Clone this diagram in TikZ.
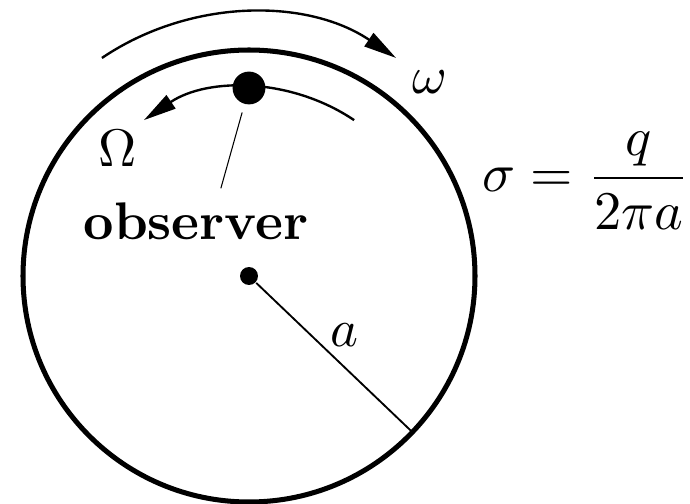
\documentclass[tikz,border=0pt]{standalone}
\usetikzlibrary{arrows.meta}
\begin{document}
\begin{tikzpicture}[
  x=0.189pt, y=0.189pt,
  blob/.style={circle,fill=black,inner sep=0pt,minimum size=#1},
  spin/.style={line width=0.45pt,-{Triangle[length=6.2pt,width=3pt]}}
  ]

   \useasboundingbox (0,0) rectangle (690,503);

   \node (ctr) [blob=3.4pt] at (249,227) {} ;
   \draw [line width=0.95pt] (ctr.center) circle [radius=226] ;
   \path (ctr.center) ++(-43.7:226) coordinate (rim) ;
   \draw [line width=0.35pt] (ctr) to node[pos=0.45,above right,inner sep=0.5pt] {$a$} (rim);

   \draw [spin] ([shift={(124:263)}]ctr.center) arc [start angle=124, end angle=56, radius=263] ;
   \draw [spin] ([shift={(56:188)}]ctr.center) arc [start angle=56, end angle=124, radius=188] ;
   \node (obs) [blob=6.2pt] at ([shift={(90:188)}]ctr.center) {} ;

   \node (w) at (430,421) {$\omega$} ;
   \node (W) at (118,355) {$\Omega$} ;
   \node (lbl) [anchor=base] at (196,263) {\textbf{observer}} ;
   \draw [line width=0.2pt, shorten <=1.5pt] (obs) -- ([xshift=4.7pt,yshift=-0.7pt]lbl.north) ;

   \node (sig) [anchor=base,scale=1.03] at (586,311) {$\displaystyle \sigma = \frac{q}{2\pi a}$} ;

\end{tikzpicture}
\end{document}
